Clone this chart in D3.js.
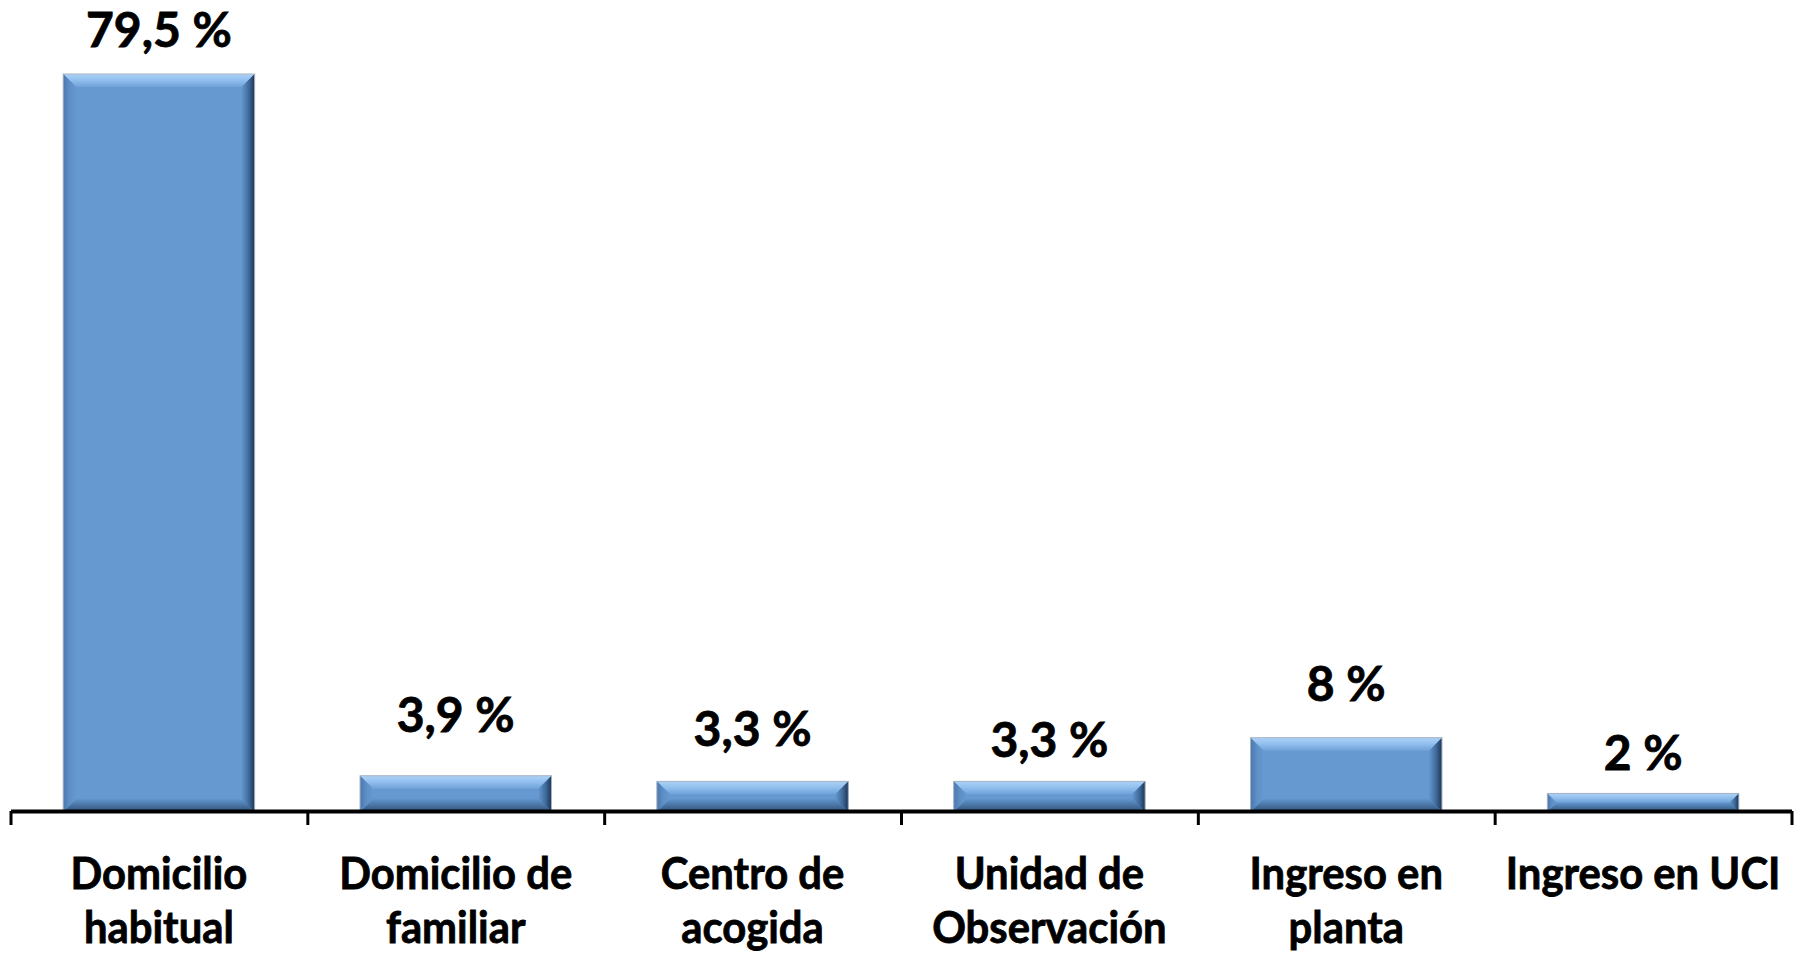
<!DOCTYPE html>
<meta charset="utf-8">
<script src="https://d3js.org/d3.v7.min.js"></script>
<style>
body {
  margin: 0;
  background: #fff;
}
text {
  font-family: Lato, "Open Sans", sans-serif;
  font-weight: bold;
  fill: #000;
  stroke: #000;
  stroke-width: 0.8px;
}
.axis path,
.axis line {
  stroke: #000;
}
</style>
<body>
<script>

// data
var categories = ["Domicilio habitual", "Domicilio de familiar", "Centro de acogida",
                  "Unidad de Observación", "Ingreso en planta", "Ingreso en UCI"];
var labelLines = [["Domicilio", "habitual"], ["Domicilio de", "familiar"], ["Centro de", "acogida"],
                  ["Unidad de", "Observación"], ["Ingreso en", "planta"], ["Ingreso en UCI"]];
var values = [79.5, 3.9, 3.3, 3.3, 8, 2];
var valueLabels = ["79,5 %", "3,9 %", "3,3 %", "3,3 %", "8 %", "2 %"];

// the value labels were dragged by hand in the original, lift above bar top (px)
var labelLift = [27, 44, 35, 24, 37, 23];

var width = 1794,
    height = 954;

var x = d3.scaleBand()
    .domain(categories)
    .range([10.5, 1791.5])
    .paddingInner(0.355)
    .paddingOuter(0.1775);

// separate scale for the tick marks sitting between categories
var xTick = d3.scaleLinear()
    .domain([0, categories.length])
    .range([10.5, 1791.5]);

var y = d3.scaleLinear()
    .domain([0, 79.5])
    .range([812, 74]);

var svg = d3.select("body")
    .append("svg")
    .attr("width", width)
    .attr("height", height);

// gradients for the bevelled bars
var defs = svg.append("defs");
function grad(id, x1, y1, x2, y2, stops) {
  var g = defs.append("linearGradient")
      .attr("id", id)
      .attr("x1", x1).attr("y1", y1).attr("x2", x2).attr("y2", y2);
  stops.forEach(function(s) {
    g.append("stop").attr("offset", s[0]).attr("stop-color", s[1]);
  });
}
grad("bevTop", 0, 0, 0, 1, [[0, "#aed2f7"], [0.45, "#92c0ef"], [1, "#70a2d8"]]);
grad("bevLeft", 0, 0, 1, 0, [[0, "#4a78ad"], [0.5, "#5e8fc7"], [1, "#6699d0"]]);
grad("bevRight", 0, 0, 1, 0, [[0, "#6497cd"], [0.55, "#3f6a9c"], [1, "#1d3553"]]);
grad("bevBottom", 0, 0, 0, 1, [[0, "#6195cc"], [1, "#2f5077"]]);

var bars = svg.selectAll(".bar")
    .data(values)
    .enter().append("g")
    .attr("class", "bar");

bars.each(function(d, i) {
  var g = d3.select(this);
  var x0 = x(categories[i]),
      x1 = x0 + x.bandwidth(),
      y0 = y(d),
      y1 = y(0),
      h = y1 - y0,
      b = Math.min(13, h / 2);

  g.append("rect")
      .attr("x", x0).attr("y", y0)
      .attr("width", x1 - x0).attr("height", h)
      .attr("fill", "#6699d0");

  var poly = function(pts, fill) {
    g.append("polygon")
        .attr("points", pts.map(function(p) { return p.join(","); }).join(" "))
        .attr("fill", fill);
  };
  poly([[x0, y0], [x1, y0], [x1 - b, y0 + b], [x0 + b, y0 + b]], "url(#bevTop)");
  poly([[x0, y0], [x0 + b, y0 + b], [x0 + b, y1 - b], [x0, y1]], "url(#bevLeft)");
  poly([[x1, y0], [x1, y1], [x1 - b, y1 - b], [x1 - b, y0 + b]], "url(#bevRight)");
  poly([[x0, y1], [x0 + b, y1 - b], [x1 - b, y1 - b], [x1, y1]], "url(#bevBottom)");

  g.append("rect")
      .attr("x", x0).attr("y", y0)
      .attr("width", x1 - x0).attr("height", h)
      .attr("fill", "none")
      .attr("stroke", "#a8b4c2")
      .attr("stroke-width", 1);
});

// value labels
svg.selectAll(".value")
    .data(values)
    .enter().append("text")
    .attr("class", "value")
    .attr("x", function(d, i) { return x(categories[i]) + x.bandwidth() / 2; })
    .attr("y", function(d, i) { return y(d) - labelLift[i]; })
    .attr("text-anchor", "middle")
    .style("font-size", "48px")
    .text(function(d, i) { return valueLabels[i]; });

// x axis
svg.append("g")
    .attr("class", "axis")
    .attr("transform", "translate(0,811)")
    .call(d3.axisBottom(xTick)
        .tickValues(d3.range(categories.length + 1))
        .tickSize(14)
        .tickSizeOuter(0)
        .tickFormat(""))
    .call(function(g) {
      g.select(".domain").attr("stroke-width", 4);
      g.selectAll(".tick line").attr("stroke-width", 3);
    });

// category labels, squeezed a little horizontally like the original
var squeeze = 0.95;
var cat = svg.selectAll(".cat")
    .data(categories)
    .enter().append("g")
    .attr("class", "cat")
    .attr("transform", function(d) {
      return "translate(" + (x(d) + x.bandwidth() / 2) + ",0) scale(" + squeeze + ",1)";
    });

cat.append("text")
    .attr("text-anchor", "middle")
    .style("font-size", "44px")
    .selectAll("tspan")
    .data(function(d, i) { return labelLines[i]; })
    .enter().append("tspan")
    .attr("x", 0)
    .attr("y", function(d, j) { return 889 + j * 54; })
    .text(String);

</script>
</body>
</html>
